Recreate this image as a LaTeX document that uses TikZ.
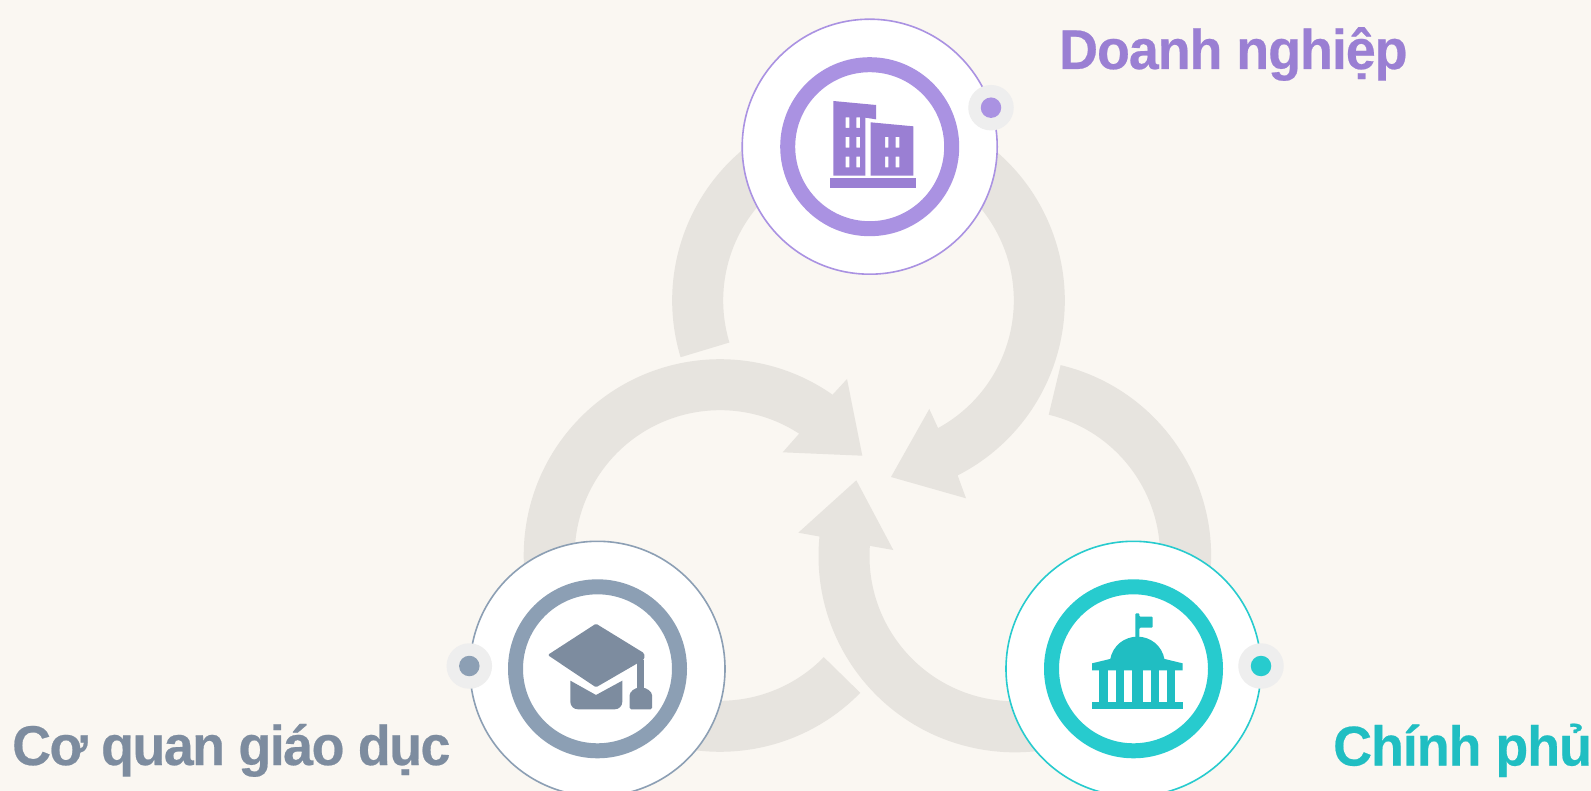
\documentclass[tikz,border=0pt]{standalone}
\usepackage{fontspec}
\setmainfont{Liberation Sans}
\newfontfamily\labA{Liberation Sans}[BoldFeatures={FakeStretch=.96,FakeBold=.4,LetterSpace=-1.8}]
\newfontfamily\labB{Liberation Sans}[BoldFeatures={FakeStretch=.96,FakeBold=.4,LetterSpace=-2.7}]
\definecolor{bgc}{HTML}{FAF7F2}
\definecolor{flowc}{HTML}{E7E4DF}
\definecolor{haloc}{HTML}{EEEEEE}
\definecolor{purpR}{HTML}{AA92E2}
\definecolor{purpI}{HTML}{9A7FD3}
\definecolor{greyR}{HTML}{8C9FB4}
\definecolor{greyI}{HTML}{7D8C9F}
\definecolor{tealR}{HTML}{27CBCE}
\definecolor{tealI}{HTML}{20BEC2}
\tikzset{
  x=1pt,y=1pt,
  flow/.style={fill=flowc},
  disc/.style={circle,fill=white,draw=#1,line width=1.6pt,minimum size=255pt,inner sep=0pt},
  ringn/.style={circle,draw=#1,line width=15pt,minimum size=164pt,inner sep=0pt,fill=white},
  halo/.style={circle,fill=haloc,minimum size=45.5pt,inner sep=0pt},
  dotn/.style={circle,fill=#1,minimum size=20.5pt,inner sep=0pt},
  lab/.style={anchor=base west,inner sep=0pt,text=#1},
  iconzoom/.style={x=0.33333pt,y=-0.33333pt},
}
\begin{document}
\begin{tikzpicture}
\useasboundingbox (0,0) rectangle (1591,-791);
\clip (0,0) rectangle (1591,-791);
\fill[bgc] (0,0) rectangle (1591,-791);

% flow arrows
\coordinate (aOb) at (847,-379);
\coordinate (aT)  at (862.3,-455.7);
\coordinate (aIb) at (782.7,-452.3);
\coordinate (bOb) at (966,-498.3);
\coordinate (bT)  at (891,-477);
\coordinate (bIb) at (929.3,-409);
\coordinate (cOb) at (798.3,-532.7);
\coordinate (cT)  at (856.3,-480.3);
\coordinate (cIb) at (893.3,-550);

\begin{scope}[shift={(720,-555.5)}]
\fill[flow] (-44.4:196.3pt) arc[start angle=-44.4,end angle=-305,radius=196.3pt]
  -- (aOb) -- (aT) -- (aIb) -- (-303:145.3pt) arc[start angle=-303,end angle=-44.4,radius=145.3pt] -- cycle;
\end{scope}
\begin{scope}[shift={(868.5,-300.5)}]
\fill[flow] (196.8:196.3pt) arc[start angle=196.8,end angle=-63,radius=196.3pt]
  -- (bOb) -- (bT) -- (bIb) -- (-61.4:145.3pt) arc[start angle=-61.4,end angle=196.8,radius=145.3pt] -- cycle;
\end{scope}
\begin{scope}[shift={(1014.8,-556)}]
\fill[flow] (76.5:196.3pt) arc[start angle=76.5,end angle=-185.7,radius=196.3pt]
  -- (cOb) -- (cT) -- (cIb) -- (-184:145.3pt) arc[start angle=-184,end angle=76.5,radius=145.3pt] -- cycle;
\end{scope}

% discs
\node[disc=purpR] (topDisc) at (869.7,-146.7) {};
\node[ringn=purpR] (topRing) at (topDisc) {};
\node[halo] (topHalo) at (991,-107.7) {};
\node[dotn=purpR] (topDot) at (topHalo) {};

\node[disc=greyR] (leftDisc) at (597.5,-668.8) {};
\node[ringn=greyR] (leftRing) at (leftDisc) {};
\node[halo] (leftHalo) at (469.3,-666) {};
\node[dotn=greyR] (leftDot) at (leftHalo) {};

\node[disc=tealR] (rightDisc) at (1133.5,-668.8) {};
\node[ringn=tealR] (rightRing) at (rightDisc) {};
\node[halo] (rightHalo) at (1261,-666) {};
\node[dotn=tealR] (rightDot) at (rightHalo) {};

% building icon
\begin{scope}[shift={(720,0)},iconzoom]
\fill[purpI,even odd rule] (340,303) -- (468,315) -- (468,358) -- (436,353) -- (436,527) -- (340,527) -- cycle
  (377,352) rectangle (388,384) (409,352) rectangle (420,384)
  (377,411) rectangle (388,443) (409,411) rectangle (420,443)
  (377,470) rectangle (388,502) (409,470) rectangle (420,502);
\fill[purpI,even odd rule] (452,367) -- (580,379) -- (580,527) -- (452,527) -- cycle
  (495,411) rectangle (505,443) (527,411) rectangle (538,443)
  (495,470) rectangle (505,502) (527,470) rectangle (538,502);
\fill[purpI] (330,535) rectangle (588,563);
\end{scope}

% graduation cap icon
\begin{scope}[shift={(430,-520)},iconzoom]
\fill[greyI,rounded corners=1.5pt] (498,311) -- (643,400) -- (643,418) -- (498,502) -- (353,405) -- cycle;
\fill[greyI] (622,420) rectangle (643,512);
\fill[greyI,rounded corners=1.5pt] (599,568) -- (599,530) .. controls (599,515) and (615,503) .. (632,503) .. controls (650,503) and (666,515) .. (666,530) -- (666,568) -- cycle;
\fill[greyI] (421,482) -- (498,525) -- (577,482) -- (577,545) .. controls (577,558) and (567,568) .. (554,568) -- (444,568) .. controls (431,568) and (421,558) .. (421,545) -- cycle;
\end{scope}

% capitol icon
\begin{scope}[shift={(980,-520)},iconzoom]
\fill[tealI,rounded corners=1pt] (466,355) -- (466,280) -- (478,280) -- (478,290) -- (518,290) -- (518,323) -- (478,323) -- (478,355) -- cycle;
\fill[tealI] (390,420) .. controls (398,375) and (435,350) .. (472,350) .. controls (510,350) and (546,375) .. (554,420) -- cycle;
\fill[tealI] (336,430) -- (390,417) -- (554,417) -- (608,430) -- (608,451) -- (336,451) -- cycle;
\foreach \xa/\xb in {358/384,408/432,456/488,512/536,560/586}
  \fill[tealI] (\xa,450) rectangle (\xb,546);
\fill[tealI] (336,545) rectangle (608,568);
\end{scope}

% labels
\node[lab=purpI,font=\labA\fontsize{56}{60}\selectfont\bfseries] (topLab) at (1059,-69) {Doanh nghiệp};
\node[lab=greyI,font=\labB\fontsize{56}{60}\selectfont\bfseries] (leftLab) at (12,-765) {Cơ quan giáo dục};
\node[lab=tealI,font=\labA\fontsize{56}{60}\selectfont\bfseries] (rightLab) at (1333,-765.5) {Chính phủ};
\end{tikzpicture}
\end{document}
